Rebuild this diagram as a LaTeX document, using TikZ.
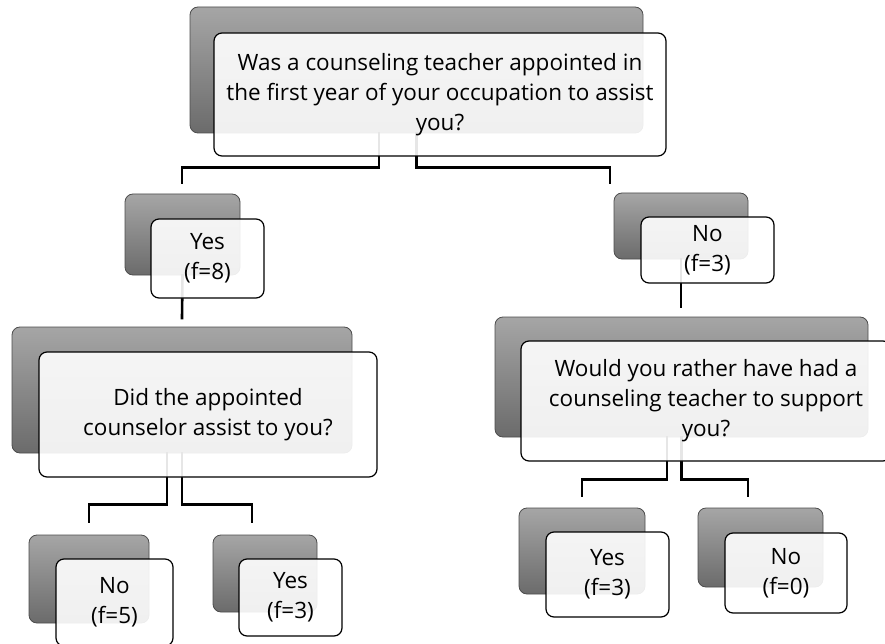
\documentclass[tikz,border=0pt]{standalone}
\usepackage{fontspec}
\setmainfont{Open Sans}
\usetikzlibrary{positioning}

\tikzset{
  backbox/.style={draw=black!70, line width=0.8pt, rounded corners=8pt, top color=black!35, bottom color=black!58, inner sep=0pt},
  frontbox/.style={draw=black, line width=1.2pt, rounded corners=8pt, fill=white, fill opacity=0.9, text opacity=1, text=black, align=center, inner sep=0pt, font=\fontsize{22.5}{30}\selectfont},
  link/.style={line width=2.6pt, black, line cap=rect}
}

\begin{document}
\begin{tikzpicture}[x=1pt, y=-1pt]
    \useasboundingbox (0,0) rectangle (885,644);
    % back boxes
    \node[backbox, minimum width=453pt, minimum height=126pt] (topback) at (416.5,70) {};
    \node[backbox, minimum width=115pt, minimum height=81pt] (yesaback) at (182.5,234.5) {};
    \node[backbox, minimum width=134pt, minimum height=66pt] (noaback) at (681,226) {};
    \node[backbox, minimum width=340pt, minimum height=126pt] (didback) at (182,390) {};
    \node[backbox, minimum width=373pt, minimum height=120pt] (wouldback) at (681.5,377) {};
    \node[backbox, minimum width=120pt, minimum height=88pt] (nobback) at (89,579) {};
    \node[backbox, minimum width=104pt, minimum height=77pt] (yesbback) at (265,573.5) {};
    \node[backbox, minimum width=126pt, minimum height=86pt] (yescback) at (582,551) {};
    \node[backbox, minimum width=125pt, minimum height=79pt] (nocback) at (760.5,547.5) {};
    % free ends of the connectors
    \coordinate (yesaend) at (182,183);
    \coordinate (noaend) at (610,183);
    \coordinate (didend) at (182,318);
    \coordinate (wouldend) at (681,307);
    \coordinate (nobend) at (89,522);
    \coordinate (yesbend) at (252,522);
    \coordinate (yescend) at (582,496);
    \coordinate (nocend) at (748,496);
    % connectors
    \draw[link] ([xshift=-37.5pt]topback.south) -- ++(0,34) -| (yesaend);
    \draw[link] (topback.south) -- ++(0,34) -| (noaend);
    \draw[link] (yesaback.south) -- (didend);
    \draw[link] (noaback.south) -- (wouldend);
    \draw[link] ([xshift=-15pt]didback.south) -- ++(0,51) -| (nobend);
    \draw[link] (didback.south) -- ++(0,51) -| (yesbend);
    \draw[link] ([xshift=-14.5pt]wouldback.south) -- ++(0,42) -| (yescend);
    \draw[link] (wouldback.south) -- ++(0,42) -| (nocend);
    % front boxes
    \node[frontbox, minimum width=452pt, minimum height=123pt] (top) at (440,94.5) {Was a counseling teacher appointed in\\the first year of your occupation to assist\\you?};
    \node[frontbox, minimum width=113pt, minimum height=79pt] (yesa) at (207.5,258.5) {Yes\\(f=8)};
    \node[frontbox, minimum width=133pt, minimum height=66pt] (noa) at (707.5,250) {No\\(f=3)};
    \node[frontbox, minimum width=338pt, minimum height=125pt] (did) at (208,414.5) {Did the appointed\\counselor assist to you?};
    \node[frontbox, minimum width=370pt, minimum height=120pt] (would) at (706,401) {Would you rather have had a\\counseling teacher to support\\you?};
    \node[frontbox, minimum width=117pt, minimum height=87pt] (nob) at (114.5,602.5) {No\\(f=5)};
    \node[frontbox, minimum width=103pt, minimum height=77pt] (yesb) at (290.5,597.5) {Yes\\(f=3)};
    \node[frontbox, minimum width=123pt, minimum height=85pt] (yesc) at (607.5,574.5) {Yes\\(f=3)};
    \node[frontbox, minimum width=122pt, minimum height=80pt] (noc) at (786,573) {No\\(f=0)};
\end{tikzpicture}
\end{document}
